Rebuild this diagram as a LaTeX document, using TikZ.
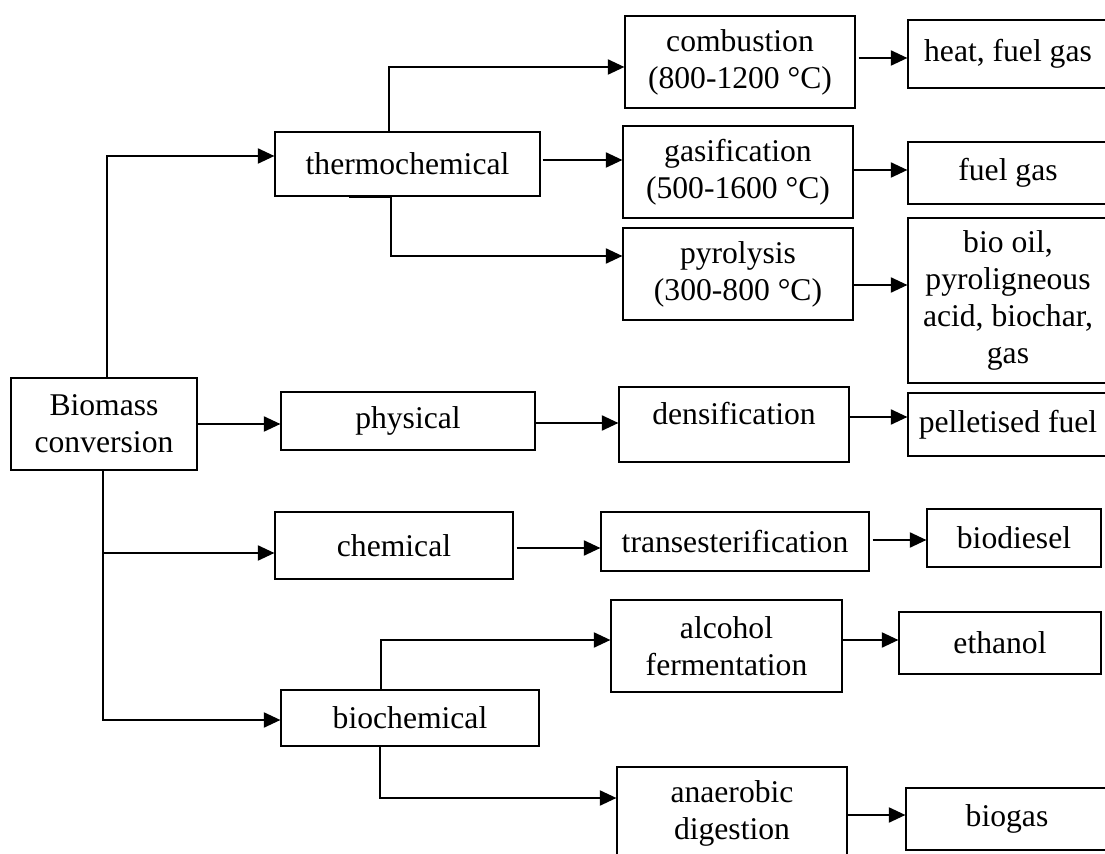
\documentclass[tikz,border=0pt]{standalone}
\usepackage{fontspec}
\setmainfont{Liberation Serif}
\usetikzlibrary{arrows.meta, positioning, calc}

\tikzset{
    % Box styles with sharp corners
    stage/.style={
        rectangle,
        draw=black,
        line width=0.7pt,
        fill=white,
        inner sep=2pt,
        align=center,
        font=\fontsize{18}{21}\selectfont
    },
    route/.style={
        stage,
        minimum width=5.2cm,
        minimum height=1.2cm
    },
    process/.style={
        stage,
        minimum width=4.6cm,
        minimum height=1.84cm
    },
    product/.style={
        stage,
        minimum width=4cm,
        minimum height=1.26cm
    },
    arrow style/.style={
        -{Triangle[length=0.33cm, width=0.3cm]},
        line width=1.1pt,
        black
    }
}

\begin{document}
\begin{tikzpicture}[x=0.02cm, y=-0.02cm]
        \useasboundingbox (0,0) rectangle (1105,854);

        % Root
        \node[stage, minimum width=3.72cm, minimum height=1.84cm] (biomass) at (104,424) {Biomass\\conversion};

        % Conversion routes
        \node[route, minimum width=5.3cm, minimum height=1.28cm] (thermo) at (407.5,164) {thermochemical};
        \node[route, minimum width=5.08cm, minimum height=1.16cm] (physical) at (408,421) {physical};
        \node[route, minimum width=4.76cm, minimum height=1.34cm] (chemical) at (394,545.5) {chemical};
        \node[route, minimum width=5.16cm, minimum height=1.12cm] (biochem) at (410,718) {biochemical};

        % Processes
        \node[process] (combustion) at (740,62) {combustion\\(800-1200 °C)};
        \node[process] (gasification) at (738,172) {gasification\\(500-1600 °C)};
        \node[process] (pyrolysis) at (738,274) {pyrolysis\\(300-800 °C)};
        \node[process, minimum height=1.5cm, text depth=0.44cm] (densification) at (734,424.5) {densification};
        \node[process, minimum width=5.36cm, minimum height=1.18cm] (trans) at (735,541.5) {transesterification};
        \node[process, minimum width=4.62cm] (alcohol) at (726.5,646) {alcohol\\fermentation};
        \node[process] (anaerobic) at (732,813) {anaerobic\\digestion};

        % Products
        \node[product, minimum height=1.36cm] (heat) at (1008,54) {heat, fuel gas};
        \node[product, minimum height=1.24cm] (fuelgas) at (1008,173) {fuel gas};
        \node[product, minimum height=3.3cm] (biooil) at (1008,300.5) {bio oil,\\pyroligneous\\acid, biochar,\\gas};
        \node[product] (pellet) at (1008,424.5) {pelletised fuel};
        \node[product, minimum width=3.48cm, minimum height=1.16cm] (biodiesel) at (1014,538) {biodiesel};
        \node[product, minimum width=4.04cm, minimum height=1.24cm] (ethanol) at (1000,643) {ethanol};
        \node[product, minimum width=4.04cm, minimum height=1.24cm] (biogas) at (1007,819) {biogas};

        % Root to routes
        \draw[arrow style] ([xshift=0.06cm]biomass.north) |- ([yshift=0.16cm]thermo.west);
        \draw[arrow style] (biomass.east) -- (biomass.east -| physical.west);
        \draw[arrow style] ([xshift=-0.02cm]biomass.south) |- ([yshift=-0.15cm]chemical.west);
        \draw[arrow style] ([xshift=-0.02cm]biomass.south) |- ([yshift=-0.04cm]biochem.west);

        % Routes to processes
        \draw[arrow style] ([xshift=-0.37cm]thermo.north) |- ([yshift=-0.1cm]combustion.west);
        \draw[arrow style] ([yshift=0.24cm]gasification.west -| thermo.east) ++(0.04cm,0) -- ([yshift=0.24cm]gasification.west);
        \draw[arrow style] ([xshift=-1.17cm]thermo.south) -- ([xshift=-0.33cm]thermo.south) |- ([yshift=0.36cm]pyrolysis.west);
        \draw[arrow style] ([yshift=0.03cm]densification.west -| physical.east) -- ([yshift=0.03cm]densification.west);
        \draw[arrow style] ([yshift=-0.13cm]trans.west -| chemical.east) ++(0.06cm,0) -- ([yshift=-0.13cm]trans.west);
        \draw[arrow style] ([xshift=-0.58cm]biochem.north) |- ([yshift=0.12cm]alcohol.west);
        \draw[arrow style] ([xshift=-0.6cm]biochem.south) |- ([yshift=0.3cm]anaerobic.west);

        % Processes to products
        \draw[arrow style] ([yshift=-0.08cm]heat.west -| combustion.east) ++(0.06cm,0) -- ([yshift=-0.08cm]heat.west);
        \draw[arrow style] ([yshift=0.06cm]fuelgas.west -| gasification.east) -- ([yshift=0.06cm]fuelgas.west);
        \draw[arrow style] ([yshift=0.31cm]biooil.west -| pyrolysis.east) -- ([yshift=0.31cm]biooil.west);
        \draw[arrow style] ([yshift=0.15cm]pellet.west -| densification.east) -- ([yshift=0.15cm]pellet.west);
        \draw[arrow style] ([yshift=-0.04cm]biodiesel.west -| trans.east) ++(0.06cm,0) -- ([yshift=-0.04cm]biodiesel.west);
        \draw[arrow style] ([yshift=0.06cm]ethanol.west -| alcohol.east) -- ([yshift=0.06cm]ethanol.west);
        \draw[arrow style] ([yshift=0.08cm]biogas.west -| anaerobic.east) -- ([yshift=0.08cm]biogas.west);
    \end{tikzpicture}
\end{document}
